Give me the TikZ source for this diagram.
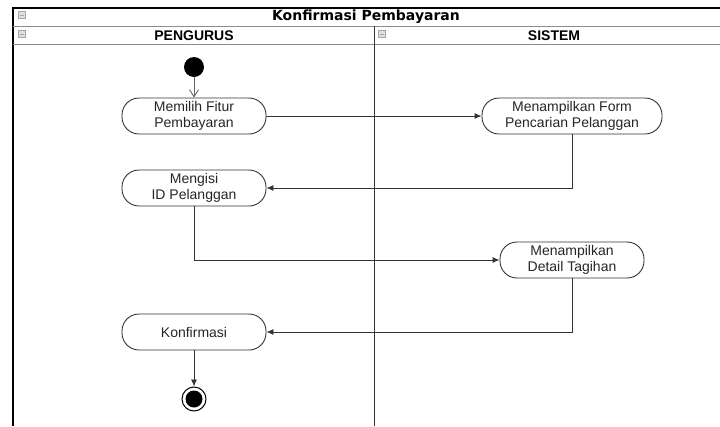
\documentclass[tikz,border=0pt]{standalone}
\usepackage{fontspec}
\setmainfont{Liberation Sans}
\newfontfamily\titlefont{DejaVu Sans}
\usetikzlibrary{arrows.meta}
\definecolor{linegray}{HTML}{333333}
\definecolor{sepgray}{HTML}{8C8C8C}
\tikzset{
  actbox/.style={draw=black!80, line width=0.9pt, rounded corners=17pt, minimum width=144pt,
    minimum height=36pt, align=center, inner sep=0pt, font=\fontsize{14pt}{16.5pt}\selectfont,
    text=black!85, fill=white},
  flow/.style={draw=linegray, line width=0.9pt, -{Latex[length=7pt,width=6pt]}},
  startflow/.style={draw=black!60, line width=0.9pt, -{Straight Barb[length=7pt,width=9pt]}},
  lanehead/.style={font=\fontsize{14pt}{16pt}\selectfont\bfseries},
  collapseicon/.style={draw=gray!70, fill=gray!25, minimum width=7pt, minimum height=7pt, inner sep=0pt}
}
\begin{document}
\begin{tikzpicture}[x=1pt,y=-1pt]
\useasboundingbox (0,0) rectangle (720,426);
\fill[white] (0,0) rectangle (720,426);

% pool frame and lane dividers
\draw[line width=2pt, black] (13,426) -- (13,8) -- (720,8);
\draw[line width=1pt, sepgray] (13,26) -- (720,26);
\draw[line width=1pt, sepgray] (13,44) -- (720,44);
\draw[line width=1pt, black!80] (374,26) -- (374,426);

% headers
\node[font=\titlefont\fontsize{14pt}{16pt}\selectfont\bfseries] (title) at (366,17) {Konfirmasi Pembayaran};
\node[lanehead] (pengurus) at (194,36) {PENGURUS};
\node[lanehead] (sistem) at (554,36) {SISTEM};

% collapse icons
\foreach \n/\px/\py in {ia/22/15, ib/22/34, ic/382/34}{
  \node[collapseicon] (\n) at (\px,\py) {};
  \draw[gray!70, line width=0.6pt] ([xshift=1.5pt]\n.west) -- ([xshift=-1.5pt]\n.east);
}

% start and end points
\node[circle, fill=black, minimum size=20pt, inner sep=0pt] (start) at (194,67) {};
\node[circle, draw=black, line width=1pt, fill=white, minimum size=24pt, inner sep=0pt] (endo) at (194,399) {};
\node[circle, fill=black, minimum size=17pt, inner sep=0pt] (endi) at (194,399) {};

% activities
\node[actbox] (pilih) at (194,116) {Memilih Fitur\\Pembayaran};
\node[actbox, minimum width=180pt] (form) at (572,116) {Menampilkan Form\\Pencarian Pelanggan};
\node[actbox] (isi) at (194,188) {Mengisi\\ID Pelanggan};
\node[actbox] (detail) at (572,260) {Menampilkan\\Detail Tagihan};
\node[actbox] (konf) at (194,332) {Konfirmasi};

% control flow
\draw[startflow] (start) -- (pilih);
\draw[flow] (pilih) -- (form);
\draw[flow] (form.south) |- (isi.east);
\draw[flow] (isi.south) |- (detail.west);
\draw[flow] (detail.south) |- (konf.east);
\draw[flow] (konf) -- (endo);
\end{tikzpicture}
\end{document}
